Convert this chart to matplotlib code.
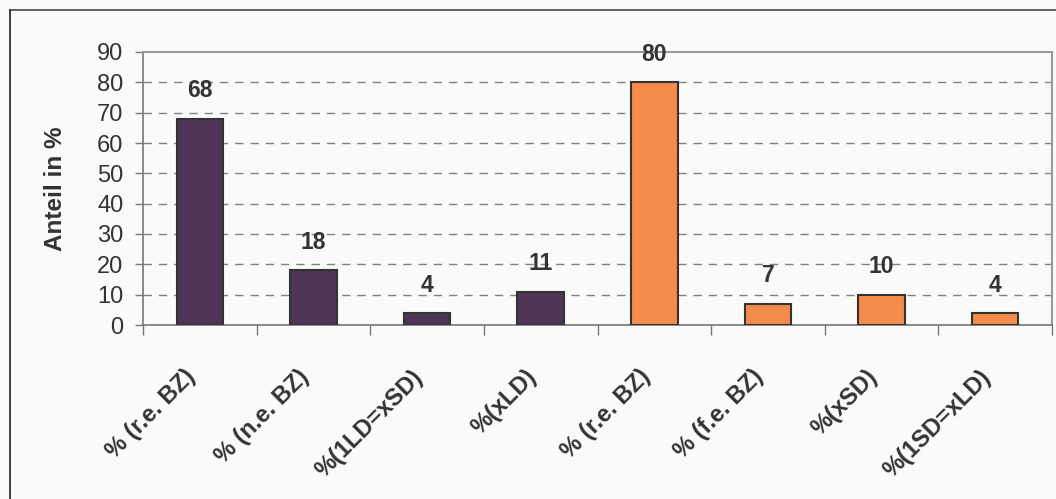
import matplotlib
matplotlib.use("Agg")
import matplotlib.pyplot as plt
import matplotlib.transforms as mtransforms
import numpy as np
from matplotlib.lines import Line2D

categories = ["% (r.e. BZ)", "% (n.e. BZ)", "%(1LD=xSD)", "%(xLD)",
              "% (r.e. BZ)", "% (f.e. BZ)", "%(xSD)", "%(1SD=xLD)"]
values = [68, 18, 4, 11, 80, 7, 10, 4]
bar_colors = ["#4e3558"] * 4 + ["#f68c4b"] * 4
y_ticks = [0, 10, 20, 30, 40, 50, 60, 70, 80, 90]
y_label = "Anteil in %"

plt.rcParams["font.family"] = ["Liberation Sans", "DejaVu Sans"]

W, H = 1056, 499
fig = plt.figure(figsize=(W / 100, H / 100), dpi=100, facecolor="#fafaf8")
ax = fig.add_axes([143 / W, 1 - 325 / H, (1052 - 143) / W, (325 - 52) / H])
ax.set_facecolor("#fafaf8")

# outer chart frame (top and left edges visible)
fig.add_artist(Line2D([9.5 / W, 1.0], [1 - 10 / H, 1 - 10 / H],
                      transform=fig.transFigure, color="#555555", lw=1.3))
fig.add_artist(Line2D([9.5 / W, 9.5 / W], [0, 1 - 10 / H],
                      transform=fig.transFigure, color="#333333", lw=1.3))

x = np.arange(len(values))
bars = ax.bar(x, values, width=0.41, color=bar_colors,
              edgecolor="#333333", linewidth=1.5, zorder=3)

for xi, v in zip(x, values):
    ax.annotate(str(v), (xi, v), xytext=(0, 20), textcoords="offset points",
                ha="center", va="center", fontsize=16.5, fontweight="bold",
                color="#333333", zorder=4)

ax.set_xlim(-0.5, len(values) - 0.5)
ax.set_ylim(0, 90)
ax.set_yticks(y_ticks)
ax.set_yticklabels([str(t) for t in y_ticks], fontsize=17, color="#333333")
ax.tick_params(axis="y", direction="out", length=6, width=1, color="#777777", pad=8)

ax.set_xticks(x)
ax.set_xticklabels(categories, rotation=45, ha="right", va="center",
                   rotation_mode="anchor", fontsize=17, fontweight="bold",
                   color="#333333")
ax.tick_params(axis="x", which="major", length=0, pad=32)
shift = mtransforms.ScaledTranslation(-8 / 100, -4 / 100, fig.dpi_scale_trans)
for lbl in ax.get_xticklabels():
    lbl.set_transform(lbl.get_transform() + shift)
ax.set_xticks(np.arange(-0.5, len(values)), minor=True)
ax.tick_params(axis="x", which="minor", direction="out", length=7, width=1,
               color="#777777")

for yv in y_ticks[1:-1]:
    ax.axhline(yv, color="#808080", lw=1.0, ls=(0, (6, 5)), zorder=1)

for side in ("left", "bottom"):
    ax.spines[side].set_color("#777777")
    ax.spines[side].set_linewidth(1.2)
for side in ("top", "right"):
    ax.spines[side].set_color("#9a9a9a")
    ax.spines[side].set_linewidth(1.5)

ax.set_ylabel(y_label, fontsize=17.5, fontweight="bold", color="#333333", labelpad=22)

fig.savefig("out.png", dpi=100, facecolor=fig.get_facecolor())
